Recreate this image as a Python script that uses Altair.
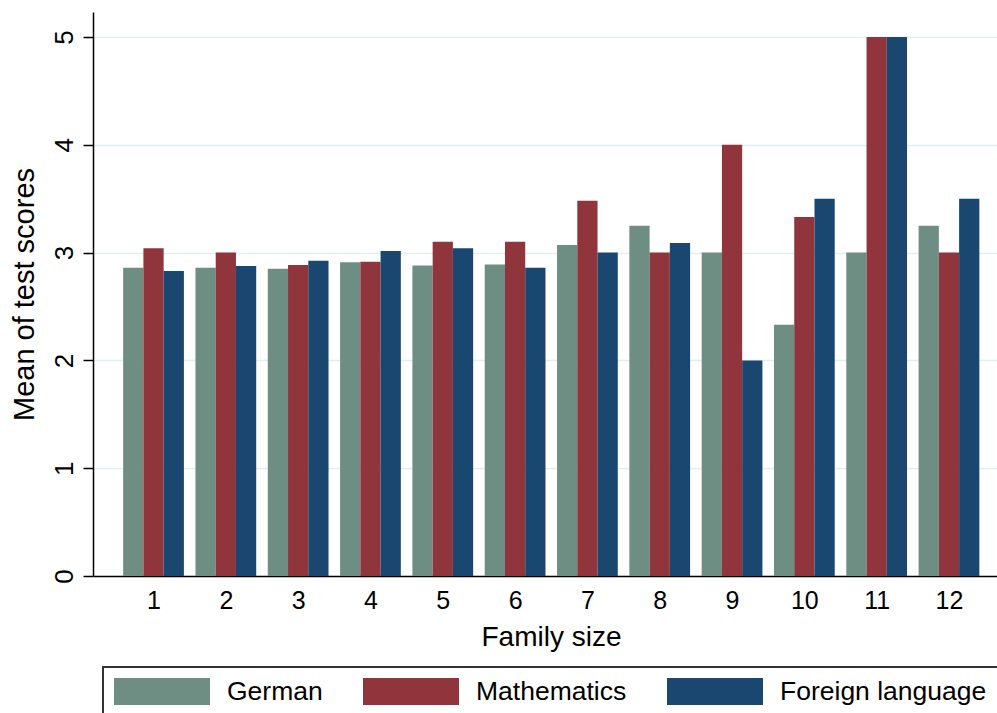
import altair as alt
import pandas as pd

# Mean test scores by family size
family_size = list(range(1, 13))
subjects = ["German", "Mathematics", "Foreign language"]
german = [2.86, 2.86, 2.85, 2.91, 2.88, 2.89, 3.07, 3.25, 3.00, 2.33, 3.00, 3.25]
mathematics = [3.04, 3.00, 2.885, 2.915, 3.10, 3.10, 3.48, 3.00, 4.00, 3.33, 5.00, 3.00]
foreign_language = [2.83, 2.875, 2.925, 3.015, 3.04, 2.86, 3.00, 3.09, 2.00, 3.50, 5.00, 3.50]
colors = ["#6E8E84", "#90353B", "#1A476F"]

series = {"German": german, "Mathematics": mathematics, "Foreign language": foreign_language}
rows = []
for k, name in enumerate(subjects):
    for size, val in zip(family_size, series[name]):
        rows.append({"size": size, "subject": name, "order": k, "value": val})
df = pd.DataFrame(rows)

FONT = "Liberation Sans"
BAR = 0.28  # bar width in family-size units

# legend swatch: wide rectangle drawn as a custom symbol path
swatch = "M-3.5556,-1L3.5556,-1L3.5556,1L-3.5556,1Z"

chart = (
    alt.Chart(df)
    .transform_calculate(
        x0=f"datum.size + (datum.order - 1.5) * {BAR}",
        x1=f"datum.size + (datum.order - 0.5) * {BAR}",
        base="0",
    )
    .mark_rect()
    .encode(
        x=alt.X(
            "x0:Q",
            scale=alt.Scale(domain=[0.163, 12.664], nice=False, zero=False),
            axis=alt.Axis(
                values=family_size,
                format="d",
                title="Family size",
                titleFont=FONT,
                titleFontSize=28,
                titleFontWeight="normal",
                titleColor="black",
                titleX=458,
                titleY=69,
                titleAlign="center",
                titleBaseline="alphabetic",
                labelFont=FONT,
                labelFontSize=25,
                labelColor="black",
                labelBaseline="alphabetic",
                labelPadding=32,
                ticks=False,
                tickSize=0,
                grid=False,
                domainColor="black",
                domainWidth=1.5,
            ),
        ),
        x2="x1:Q",
        y=alt.Y(
            "value:Q",
            scale=alt.Scale(domain=[0, 5.232], nice=False),
            axis=alt.Axis(
                values=[0, 1, 2, 3, 4, 5],
                format="d",
                title="Mean of test scores",
                titleFont=FONT,
                titleFontSize=29,
                titleFontWeight="normal",
                titleColor="black",
                titleAngle=270,
                titleX=-60,
                titleY=282,
                titleAlign="center",
                titleBaseline="alphabetic",
                labelFont=FONT,
                labelFontSize=26,
                labelColor="black",
                labelAngle=270,
                labelAlign="center",
                labelBaseline="alphabetic",
                labelPadding=11,
                tickSize=10,
                tickColor="black",
                tickWidth=1.5,
                domainColor="black",
                domainWidth=1.5,
                grid=True,
                gridColor="#E4EEF2",
                gridWidth=1.5,
            ),
        ),
        y2="base:Q",
        color=alt.Color(
            "subject:N",
            scale=alt.Scale(domain=subjects, range=colors),
            legend=alt.Legend(
                title=None,
                orient="none",
                legendX=10,
                legendY=655,
                direction="horizontal",
                columns=3,
                columnPadding=39,
                padding=11,
                strokeColor="#333333",
                symbolType=swatch,
                symbolSize=729,
                symbolOffset=34.5,
                symbolStrokeWidth=0,
                symbolOpacity=1,
                labelOffset=51.5,
                labelFont=FONT,
                labelFontSize=26.5,
                labelColor="black",
                labelLimit=400,
            ),
        ),
    )
    .properties(
        width=904,
        height=564,
        autosize=alt.AutoSizeParams(type="none"),
        padding={"left": 93, "top": 12, "right": 0, "bottom": 137},
        background="white",
    )
    .configure_view(strokeWidth=0)
    .configure_legend(strokeWidth=2)
)

chart.save("out.html", embed_options={"renderer": "svg", "actions": False})
